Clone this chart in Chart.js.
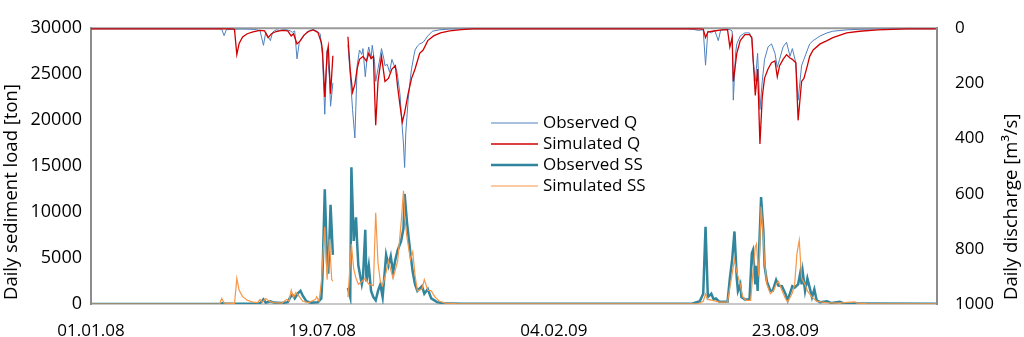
<!DOCTYPE html>
<html>
<head>
<meta charset="utf-8">
<script src="https://cdn.jsdelivr.net/npm/chart.js@4/dist/chart.umd.min.js"></script>
<style>
  html, body { margin: 0; padding: 0; background: #fff; }
  #wrap { width: 1024px; height: 337px; }
</style>
</head>
<body>
<div id="wrap"><canvas id="chart" width="1024" height="337"></canvas></div>
<script>
// days counted from 01.01.08
const xTickDays = [0, 200, 400, 600]
const xTickLabels = ['01.01.08', '19.07.08', '04.02.09', '23.08.09']

// daily discharge [m3/s]
const obsQDays = [0, 110, 113, 115, 117, 130, 140, 146, 149, 151, 153, 155, 157, 160, 163, 168, 172, 174, 176, 178, 180, 182, 184, 186, 189, 192, 195, 198, 200, 202, 204, 206, 207, 209, 216,
  222, 224, 226, 228, 230, 232, 234, 235, 237, 239, 240, 242, 243, 245, 246, 248, 250, 251, 253, 254, 256, 258, 260, 262, 264, 265, 267, 268, 270, 271, 272, 274, 276, 277, 279, 280, 282, 284, 287, 289, 291, 295, 301, 310, 330,
  515, 520, 525, 529, 531, 533, 536, 539, 542, 544, 548, 552, 554, 555, 557, 558, 561, 565, 569, 571, 572, 574, 576, 578, 580, 582, 585, 588, 591, 593, 595, 598, 601, 604, 606, 609, 611, 614, 616, 619, 621, 624, 630, 636, 641, 653, 664, 688, 730]
const obsQ = [2, 2, 4, 27, 5, 3, 4, 8, 62, 15, 30, 45, 14, 6, 8, 5, 9, 15, 10, 111, 51, 35, 28, 15, 8, 5, 10, 20, 100, 312, 80, 180, 283, 198, null,
  60, 170, 295, 398, 136, 79, 95, 74, 176, 90, 68, 110, 62, 120, 193, 147, 100, 74, 110, 136, 131, 160, 113, 136, 150, 176, 240, 306, 420, 505, 380, 261, 180, 147, 100, 79, 65, 57, 51, 40, 28, 11, 6, 3, 2,
  2, 4, 8, 5, 134, 10, 17, 8, 45, 8, 4, 5, 10, 261, 90, 57, 28, 17, 17, 40, 113, 193, 91, 295, 193, 113, 68, 57, 91, 142, 113, 68, 51, 102, 74, 125, 261, 136, 113, 79, 57, 45, 28, 17, 11, 6, 4, 2, 2]

const simQDays = [0, 122, 124, 126, 128, 131, 135, 140, 146, 150, 153, 156, 160, 165, 170, 173, 175, 178, 181, 184, 188, 192, 196, 199, 200, 202, 204, 205, 207, 209, 216,
  222, 224, 226, 228, 230, 232, 235, 238, 240, 242, 244, 246, 248, 251, 254, 257, 260, 263, 265, 267, 269, 271, 274, 277, 280, 284, 287, 291, 296, 302, 310, 320, 330,
  525, 529, 531, 533, 537, 545, 550, 552, 554, 555, 558, 561, 565, 569, 571, 572, 574, 576, 578, 580, 582, 585, 588, 591, 593, 595, 598, 601, 604, 606, 609, 611, 614, 616, 619, 621, 624, 630, 636, 641, 653, 664, 680, 705, 730]
const simQ = [2, 2, 5, 96, 55, 32, 20, 13, 8, 10, 34, 20, 12, 8, 10, 28, 20, 57, 45, 25, 12, 6, 15, 51, 80, 249, 90, 66, 238, 100, null,
  31, 153, 232, 204, 146, 113, 102, 119, 91, 110, 102, 352, 193, 102, 193, 182, 148, 136, 215, 280, 340, 306, 238, 182, 148, 91, 79, 45, 28, 17, 10, 5, 2,
  2, 3, 34, 14, 11, 6, 5, 68, 34, 193, 91, 45, 23, 23, 34, 102, 244, 148, 420, 250, 181, 148, 125, 119, 176, 136, 113, 96, 108, 113, 125, 334, 193, 182, 136, 102, 79, 57, 45, 34, 17, 11, 6, 2, 2]

// daily sediment load [ton]
const obsSSDays = [0, 112, 114, 116, 145, 147, 149, 151, 155, 158, 165, 170, 172, 174, 176, 179, 181, 183, 186, 190, 196, 199, 200, 202, 204, 205, 207, 209, 216,
  222, 224, 225, 227, 229, 230, 231, 234, 235, 237, 238, 240, 242, 244, 246, 248, 250, 252, 255, 257, 259, 261, 263, 265, 268, 270, 271, 273, 276, 278, 280, 282, 286, 288, 291, 294, 299, 305, 320,
  500, 520, 526, 529, 531, 533, 536, 538, 540, 543, 550, 552, 554, 556, 558, 559, 561, 562, 565, 569, 571, 572, 574, 575, 576, 579, 581, 582, 584, 587, 589, 592, 594, 597, 600, 602, 606, 608, 611, 613, 614, 615, 617, 619, 623, 625, 627, 630, 636, 640, 647, 650, 660, 730]
const obsSS = [0, 0, 100, 30, 30, 200, 500, 150, 300, 150, 100, 200, 700, 1000, 600, 1200, 1430, 900, 300, 150, 200, 600, 3000, 12480, 4490, 3300, 10800, 5340, null,
  1770, 750, 14870, 6870, 9420, 6530, 4180, 2140, 2790, 8060, 2450, 4180, 1430, 750, 400, 1430, 2140, 750, 5340, 4180, 5200, 3470, 4830, 5850, 6870, 8230, 11970, 8910, 5510, 3470, 2140, 1430, 1940, 1120, 1630, 610, 200, 80, 30,
  30, 50, 300, 1120, 8400, 750, 1120, 500, 600, 240, 240, 2790, 4830, 7890, 2790, 1430, 2140, 750, 500, 500, 5510, 5850, 2140, 4150, 1430, 11630, 7890, 4150, 2450, 1430, 1430, 2620, 2000, 1940, 1120, 400, 1940, 1770, 2140, 3470, 2140, 3470, 1430, 2790, 750, 1600, 400, 200, 300, 100, 250, 80, 50, 30]

const simSSDays = [0, 111, 113, 115, 124, 126, 128, 131, 135, 140, 144, 146, 148, 151, 154, 158, 165, 169, 171, 173, 175, 177, 180, 183, 188, 194, 195, 197, 199, 202, 204, 206, 208, 209, 216,
  222, 224, 225, 227, 229, 231, 234, 237, 240, 244, 246, 248, 250, 252, 255, 257, 261, 265, 268, 270, 271, 273, 276, 278, 280, 282, 286, 288, 291, 294, 297, 301, 306, 315,
  500, 525, 529, 531, 533, 537, 543, 550, 552, 556, 558, 561, 563, 566, 570, 572, 574, 575, 577, 579, 581, 582, 584, 587, 590, 592, 594, 597, 600, 602, 606, 608, 610, 612, 613, 614, 617, 619, 623, 627, 635, 645, 660, 662, 670, 730]
const simSS = [0, 0, 600, 100, 60, 2790, 1500, 800, 400, 200, 150, 500, 200, 600, 300, 150, 100, 500, 300, 1500, 700, 1260, 800, 300, 150, 500, 800, 300, 2280, 8400, 2650, 7040, 2650, 2500, null,
  750, 4490, 6530, 3810, 2790, 2140, 2450, 2800, 2140, 2000, 9930, 4490, 2450, 2000, 3470, 4690, 2790, 4690, 8910, 12310, 9590, 7240, 4830, 5680, 3130, 1430, 1630, 2650, 1500, 1430, 800, 300, 100, 50,
  20, 50, 300, 1100, 500, 400, 200, 200, 1770, 4830, 3470, 2140, 800, 400, 400, 3470, 6190, 6530, 3000, 10610, 7210, 4490, 2140, 1120, 1500, 2140, 2450, 1500, 600, 240, 1200, 2140, 5510, 6940, 4830, 2790, 2140, 1430, 750, 300, 150, 100, 240, 100, 40, 20]

const toPoints = (days, values) => days.map((d, i) => ({x: d, y: values[i]}))

const decorPlugin = {
  id: 'decor',
  beforeDatasetsDraw(chart) {
    const {ctx, chartArea} = chart
    ctx.save()
    ctx.strokeStyle = '#9a9a9a'
    ctx.lineWidth = 2
    ctx.beginPath()
    ctx.moveTo(chartArea.left, chartArea.top)
    ctx.lineTo(chartArea.right, chartArea.top)
    ctx.stroke()
    ctx.restore()
  },
  afterDraw(chart) {
    const ctx = chart.ctx
    ctx.save()
    // legend inside the plot
    ctx.font = "17px 'Open Sans'"
    ctx.textBaseline = 'middle'
    ctx.textAlign = 'left'
    chart.data.datasets.forEach((ds, i) => {
      const y = 123 + i * 21
      ctx.strokeStyle = ds.borderColor
      ctx.lineWidth = ds.borderWidth
      ctx.beginPath()
      ctx.moveTo(491, y)
      ctx.lineTo(538, y)
      ctx.stroke()
      ctx.fillStyle = '#000'
      ctx.fillText(ds.label, 543, y)
    })
    // axis titles, both reading upwards
    ctx.font = "18.5px 'Open Sans'"
    ctx.fillStyle = '#000'
    const titles = [['Daily sediment load [ton]', 11.5], ['Daily discharge [m³/s]', 1012]]
    titles.forEach(([text, x]) => {
      ctx.save()
      ctx.translate(x, 300)
      ctx.rotate(-Math.PI / 2)
      ctx.fillText(text, 0, 0)
      ctx.restore()
    })
    ctx.restore()
  }
}

Chart.defaults.font.family = "'Open Sans', sans-serif"
Chart.defaults.color = '#000'

new Chart(document.getElementById('chart'), {
  type: 'line',
  data: {
    datasets: [
      {
        label: 'Observed Q',
        data: toPoints(obsQDays, obsQ),
        borderColor: '#4f81bd',
        borderWidth: 1,
        yAxisID: 'yQ',
        order: 3
      },
      {
        label: 'Simulated Q',
        data: toPoints(simQDays, simQ),
        borderColor: '#d00000',
        borderWidth: 1.3,
        yAxisID: 'yQ',
        order: 2
      },
      {
        label: 'Observed SS',
        data: toPoints(obsSSDays, obsSS),
        borderColor: '#31859c',
        borderWidth: 2.5,
        yAxisID: 'ySS',
        order: 1
      },
      {
        label: 'Simulated SS',
        data: toPoints(simSSDays, simSS),
        borderColor: '#f79646',
        borderWidth: 1.2,
        yAxisID: 'ySS',
        order: 0
      }
    ]
  },
  options: {
    responsive: false,
    animation: false,
    spanGaps: false,
    elements: {
      point: { radius: 0 },
      line: { tension: 0, fill: false }
    },
    layout: { padding: { top: 10, left: 0, right: 0, bottom: 0 } },
    plugins: {
      legend: { display: false },
      tooltip: { enabled: false }
    },
    scales: {
      x: {
        type: 'linear',
        min: 0,
        max: 731,
        afterBuildTicks: (scale) => { scale.ticks = xTickDays.map(v => ({value: v})) },
        afterFit: (scale) => { scale.height = 33 },
        grid: { display: false, drawTicks: false },
        border: { color: '#c8c8c8', width: 2 },
        ticks: {
          autoSkip: false,
          maxRotation: 0,
          padding: 17,
          font: { size: 17 },
          callback: (value, index) => xTickLabels[index]
        }
      },
      ySS: {
        position: 'left',
        min: 0,
        max: 30000,
        afterFit: (scale) => { scale.width = 91 },
        grid: { display: false, drawTicks: false },
        border: { color: '#8c8c8c', width: 2 },
        ticks: { stepSize: 5000, padding: 9, font: { size: 18 }, callback: (v) => String(v) }
      },
      yQ: {
        position: 'right',
        reverse: true,
        min: 0,
        max: 1000,
        afterFit: (scale) => { scale.width = 87 },
        grid: { display: false, drawTicks: false },
        border: { color: '#8c8c8c', width: 2 },
        ticks: { stepSize: 200, padding: 18, font: { size: 17 }, callback: (v) => String(v) }
      }
    }
  },
  plugins: [decorPlugin]
})
</script>
</body>
</html>
